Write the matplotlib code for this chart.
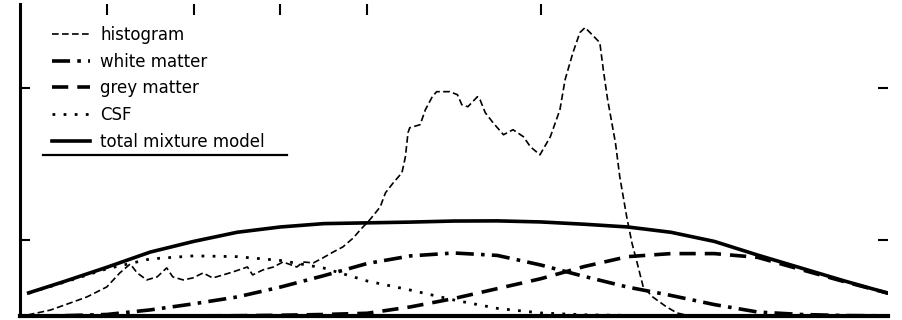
import numpy as np
import matplotlib
matplotlib.use("Agg")
import matplotlib.pyplot as plt

# Intensity grid for the fitted mixture components
model_x = [1, 5, 10, 15, 20, 25, 30, 35, 40, 45, 50, 55, 60, 65, 70, 75, 80, 85, 90, 95, 100]
white_matter = [0.0, 0.02, 0.1, 0.4, 0.8, 1.25, 1.9, 2.65, 3.45, 3.95, 4.14, 3.98, 3.35, 2.6, 1.9, 1.35, 0.75, 0.26, 0.1, 0.03, 0.01]
grey_matter = [0.0, 0.0, 0.0, 0.0, 0.01, 0.02, 0.05, 0.1, 0.18, 0.6, 1.15, 1.8, 2.45, 3.25, 3.9, 4.1, 4.1, 3.85, 3.05, 2.25, 1.5]
csf = [1.5, 2.2, 3.1, 3.75, 3.95, 3.9, 3.65, 3.15, 2.3, 1.7, 1.05, 0.5, 0.2, 0.08, 0.04, 0.01, 0.0, 0.0, 0.0, 0.0, 0.0]
total_model = [1.52, 2.25, 3.2, 4.2, 4.9, 5.5, 5.85, 6.07, 6.12, 6.17, 6.24, 6.25, 6.18, 6.03, 5.85, 5.5, 4.9, 4.0, 3.15, 2.3, 1.5]

# Observed intensity histogram
hist_x = [0.9, 3.5, 6.1, 7.7, 10.0, 11.5, 12.7, 13.5, 14.6, 15.8, 16.9, 17.6, 18.8, 19.9,
          21.1, 22.2, 23.4, 24.5, 26.2, 26.8, 28.0, 29.2, 30.3, 31.9, 32.6, 33.8, 34.9,
          36.1, 37.2, 38.4, 39.2, 40.3, 41.5, 42.1, 43.0, 44.0, 44.4, 44.7, 44.9, 46.1,
          46.7, 47.5, 48.0, 49.5, 50.4, 50.9, 51.6, 52.7, 53.0, 53.6, 54.5, 55.7, 56.8,
          58.0, 58.8, 59.9, 61.1, 62.2, 62.8, 63.7, 64.5, 65.1, 65.9, 66.8, 67.2, 67.7,
          68.6, 69.1, 69.9, 70.5, 71.1, 71.8, 72.9, 74.5, 75.7, 77.2, 85.0, 99.0]
hist_y = [0.07, 0.39, 0.92, 1.25, 1.91, 2.83, 3.42, 2.83, 2.37, 2.57, 3.16, 2.57, 2.37, 2.5,
          2.83, 2.5, 2.7, 2.89, 3.22, 2.7, 3.03, 3.22, 3.55, 3.22, 3.55, 3.49, 3.82,
          4.21, 4.54, 5.13, 5.66, 6.32, 7.17, 8.09, 8.75, 9.41, 10.46, 12.04, 12.37, 12.57,
          13.55, 14.41, 14.74, 14.74, 14.54, 13.88, 13.75, 14.41, 14.21, 13.36, 12.7, 11.91, 12.24,
          11.78, 11.12, 10.59, 11.78, 13.55, 15.53, 17.3, 18.62, 18.95, 18.49, 17.96, 16.18, 14.21,
          11.38, 9.14, 6.51, 4.8, 3.49, 1.91, 1.25, 0.59, 0.2, 0.0, 0.0, 0.0]

labels = ["histogram", "white matter", "grey matter", "CSF", "total mixture model"]
top_ticks = [10, 20, 30, 40, 60]
side_ticks = [5, 15]

fig = plt.figure(figsize=(9.03, 3.2), dpi=100)
ax = fig.add_axes([20 / 903, 4 / 320, 868 / 903, 312 / 320])
ax.set_frame_on(False)

ax.plot(hist_x, hist_y, color="black", lw=1.2, ls=(0, (4, 2)), label=labels[0])
ax.plot(model_x, white_matter, color="black", lw=2.6, ls=(0, (5, 2, 1, 2)), label=labels[1])
ax.plot(model_x, grey_matter, color="black", lw=2.6, ls=(0, (4.5, 2.5)), label=labels[2])
ax.plot(model_x, csf, color="black", lw=2.0, ls=(0, (1, 3)), label=labels[3])
ax.plot(model_x, total_model, color="black", lw=2.6, ls="-", label=labels[4])

ax.set_xlim(0, 100)
ax.set_ylim(0, 20.5)

# Intensity ticks along the upper edge only
ax.set_xticks(top_ticks)
ax.xaxis.set_ticks_position("top")
ax.tick_params(axis="x", direction="in", length=8, width=1.5, labeltop=False, labelbottom=False)

ax.set_yticks(side_ticks)
ax.tick_params(axis="y", direction="in", length=7, width=1.5,
               left=True, right=True, labelleft=False, labelright=False)

# Only the left and bottom axis lines are drawn
ax.axvline(0, color="black", lw=2.2, clip_on=False)
ax.axhline(0, color="black", lw=3.0, clip_on=False)

leg = ax.legend(loc="upper left", bbox_to_anchor=(0.037, 0.93), frameon=False,
                fontsize=12, handlelength=2.3, handletextpad=0.6, labelspacing=0.52,
                borderpad=0, borderaxespad=0)

# Rule beneath the legend block
ax.plot([0.0265, 0.3076], [0.516, 0.516], color="black", lw=1.6, transform=ax.transAxes,
        clip_on=False)

fig.savefig("out.png", dpi=100, facecolor="white")
